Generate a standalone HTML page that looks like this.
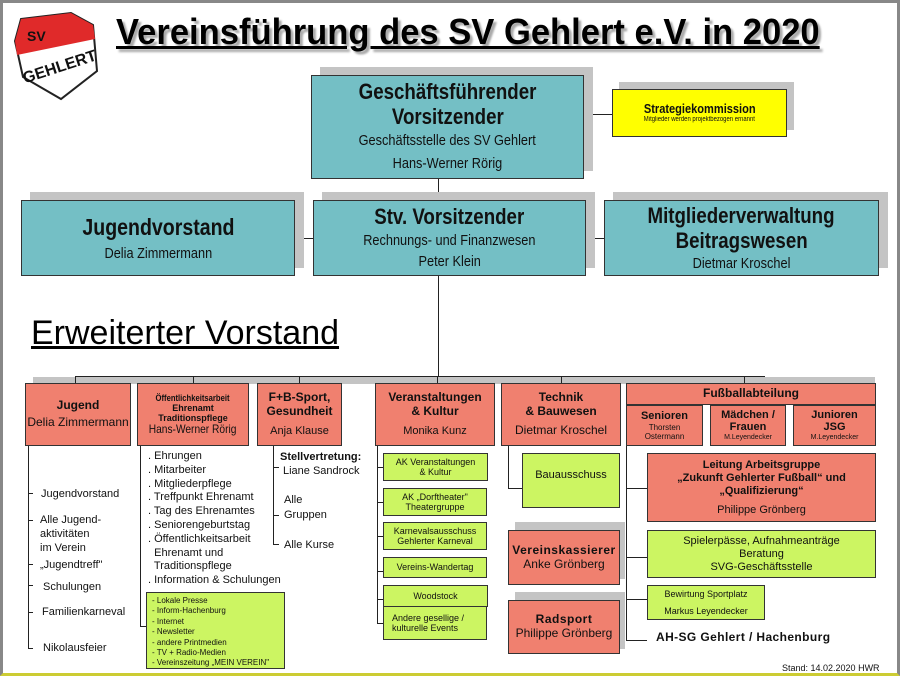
<!DOCTYPE html>
<html><head><meta charset="utf-8"><style>
body{margin:0;width:900px;height:676px;overflow:hidden;background:#fff;font-family:"Liberation Sans",Arial,sans-serif;}
#p{position:absolute;left:0;top:0;width:900px;height:676px;box-sizing:border-box;border:3px solid #888;border-bottom:3px solid #cc3;}
.a{position:absolute;box-sizing:border-box;}
.b{position:absolute;box-sizing:border-box;border:1.5px solid #333;text-align:center;color:#111;line-height:1.15;display:flex;flex-direction:column;justify-content:center;align-items:center;}
.t{background:#74bfc5;box-shadow:9px -8px 0 #c4c4c4;}
.s{background:#f0806f;}
.g{background:#ccf562;}
.h{position:absolute;background:#222;height:1px;}
.v{position:absolute;background:#222;width:1px;}
.n{display:inline-block;transform:scaleX(.85);white-space:nowrap;}
.tx{position:absolute;font-size:11px;color:#111;white-space:nowrap;line-height:14px;}
</style></head><body><div id="p">
<!-- logo -->
<svg class="a" style="left:8px;top:8px" width="90" height="95" viewBox="0 0 90 95">
<path d="M10 8 L60 2 L82 14 L86 60 L50 88 L12 66 L4 30 Z" fill="#fff" stroke="#222" stroke-width="2"/>
<path d="M10 8 L60 2 L82 14 L84 28 L6 44 L4 30 Z" fill="#e02a2a"/>
<text x="16" y="30" font-family="Liberation Sans" font-weight="bold" font-size="14" fill="#111">SV</text>
<text x="10" y="62" font-family="Liberation Sans" font-weight="bold" font-size="16" fill="#111" transform="rotate(-18 45 55)">GEHLERT</text>
</svg>
<!-- title -->
<div class="a" style="left:113px;top:8px;font-size:36px;font-weight:bold;text-decoration:underline;text-shadow:3px 3px 2px #aaa;white-space:nowrap;transform:scaleX(.96);transform-origin:left;">Vereinsführung des SV Gehlert e.V. in 2020</div>

<!-- lines top -->
<div class="v" style="left:435px;top:176px;height:22px"></div>
<div class="h" style="left:581px;top:111px;width:28px"></div>
<div class="h" style="left:292px;top:235px;width:18px"></div>
<div class="h" style="left:583px;top:235px;width:18px"></div>
<div class="v" style="left:435px;top:273px;height:100px"></div>

<div class="b t" style="left:308px;top:72px;width:273px;height:104px;"><div style="font-size:22px;font-weight:bold"><span class="n">Geschäftsführender</span><br><span class="n">Vorsitzender</span></div><div style="font-size:15px;line-height:23px"><span class="n">Geschäftsstelle des SV Gehlert</span><br><span class="n">Hans-Werner Rörig</span></div></div>
<div class="b" style="left:609px;top:86px;width:175px;height:48px;background:#ffff00;box-shadow:7px -7px 0 #c4c4c4;"><div style="font-size:13px;font-weight:bold"><span class="n">Strategiekommission</span></div><div style="font-size:7px"><span class="n">Mitglieder werden projektbezogen ernannt</span></div></div>

<div class="b t" style="left:18px;top:197px;width:274px;height:76px;"><div style="font-size:23px;font-weight:bold"><span class="n">Jugendvorstand</span></div><div style="font-size:15px;margin-top:4px"><span class="n">Delia Zimmermann</span></div></div>
<div class="b t" style="left:310px;top:197px;width:273px;height:76px;"><div style="font-size:22px;font-weight:bold"><span class="n">Stv. Vorsitzender</span></div><div style="font-size:15px;line-height:21px"><span class="n">Rechnungs- und Finanzwesen</span><br><span class="n">Peter Klein</span></div></div>
<div class="b t" style="left:601px;top:197px;width:275px;height:76px;"><div style="font-size:22px;font-weight:bold;line-height:25px"><span class="n">Mitgliederverwaltung</span><br><span class="n">Beitragswesen</span></div><div style="font-size:15px;margin-top:2px"><span class="n">Dietmar Kroschel</span></div></div>

<div class="a" style="left:28px;top:311px;font-size:34px;text-decoration:underline;white-space:nowrap;">Erweiterter Vorstand</div>

<!-- bus -->
<div class="h" style="left:72px;top:373px;width:690px"></div>
<div class="a" style="left:30px;top:374px;width:842px;height:7px;background:#c4c4c4"></div>
<div class="v" style="left:72px;top:373px;height:8px"></div>
<div class="v" style="left:190px;top:373px;height:8px"></div>
<div class="v" style="left:296px;top:373px;height:8px"></div>
<div class="v" style="left:434px;top:373px;height:8px"></div>
<div class="v" style="left:558px;top:373px;height:8px"></div>
<div class="v" style="left:741px;top:373px;height:8px"></div>

<div class="b s" style="left:22px;top:380px;width:106px;height:63px;"><div style="font-size:12px;font-weight:bold">Jugend</div><div style="font-size:12px;margin-top:3px;white-space:nowrap">Delia Zimmermann</div></div>
<div class="b s" style="left:134px;top:380px;width:112px;height:63px;"><div style="font-size:9px;font-weight:bold;line-height:10px"><span class="n">Öffentlichkeitsarbeit</span><br>Ehrenamt<br>Traditionspflege</div><div style="font-size:12px;white-space:nowrap"><span class="n">Hans-Werner Rörig</span></div></div>
<div class="b s" style="left:254px;top:380px;width:85px;height:63px;"><div style="font-size:12px;font-weight:bold">F+B-Sport,<br>Gesundheit</div><div style="font-size:11px;margin-top:6px">Anja Klause</div></div>
<div class="b s" style="left:372px;top:380px;width:120px;height:63px;"><div style="font-size:12px;font-weight:bold">Veranstaltungen<br>&amp; Kultur</div><div style="font-size:11px;margin-top:6px">Monika Kunz</div></div>
<div class="b s" style="left:498px;top:380px;width:120px;height:63px;"><div style="font-size:12px;font-weight:bold">Technik<br>&amp; Bauwesen</div><div style="font-size:12px;margin-top:6px">Dietmar Kroschel</div></div>
<div class="b s" style="left:623px;top:380px;width:250px;height:22px;"><div style="font-size:12px;font-weight:bold">Fußballabteilung</div></div>
<div class="b s" style="left:623px;top:402px;width:77px;height:41px;"><div style="font-size:11px;font-weight:bold">Senioren</div><div style="font-size:8px">Thorsten<br>Ostermann</div></div>
<div class="b s" style="left:707px;top:402px;width:76px;height:41px;"><div style="font-size:11px;font-weight:bold">Mädchen /<br>Frauen</div><div style="font-size:7px">M.Leyendecker</div></div>
<div class="b s" style="left:790px;top:402px;width:83px;height:41px;"><div style="font-size:11px;font-weight:bold">Junioren<br>JSG</div><div style="font-size:7px">M.Leyendecker</div></div>

<!-- Jugend column -->
<div class="v" style="left:25px;top:443px;height:203px"></div>
<div class="h" style="left:25px;top:490px;width:5px"></div>
<div class="h" style="left:25px;top:517px;width:5px"></div>
<div class="h" style="left:25px;top:561px;width:5px"></div>
<div class="h" style="left:25px;top:582px;width:5px"></div>
<div class="h" style="left:25px;top:609px;width:5px"></div>
<div class="h" style="left:25px;top:645px;width:5px"></div>
<div class="tx" style="left:38px;top:484px">Jugendvorstand</div>
<div class="tx" style="left:37px;top:510px">Alle Jugend-<br>aktivitäten<br>im Verein</div>
<div class="tx" style="left:37px;top:555px">„Jugendtreff"</div>
<div class="tx" style="left:40px;top:577px">Schulungen</div>
<div class="tx" style="left:39px;top:602px">Familienkarneval</div>
<div class="tx" style="left:40px;top:638px">Nikolausfeier</div>

<!-- Öffentlich column -->
<div class="v" style="left:137px;top:443px;height:180px"></div>
<div class="h" style="left:137px;top:623px;width:6px"></div>
<div class="tx" style="left:145px;top:447px;line-height:13.8px">. Ehrungen<br>. Mitarbeiter<br>. Mitgliederpflege<br>. Treffpunkt Ehrenamt<br>. Tag des Ehrenamtes<br>. Seniorengeburtstag<br>. Öffentlichkeitsarbeit<br>&nbsp; Ehrenamt und<br>&nbsp; Traditionspflege<br>. Information &amp; Schulungen</div>
<div class="a" style="left:143px;top:589px;width:139px;height:77px;background:#ccf562;border:1.5px solid #333;font-size:8px;line-height:10.4px;padding:3px 0 0 5px;color:#111">- Lokale Presse<br>- Inform-Hachenburg<br>- Internet<br>- Newsletter<br>- andere Printmedien<br>- TV + Radio-Medien<br>- Vereinszeitung „MEIN VEREIN"</div>

<!-- F+B column -->
<div class="v" style="left:270px;top:443px;height:98px"></div>
<div class="h" style="left:270px;top:464px;width:6px"></div>
<div class="h" style="left:270px;top:512px;width:6px"></div>
<div class="h" style="left:270px;top:541px;width:6px"></div>
<div class="tx" style="left:277px;top:447px;font-weight:bold">Stellvertretung:</div>
<div class="tx" style="left:280px;top:461px">Liane Sandrock</div>
<div class="tx" style="left:281px;top:490px;line-height:15px">Alle<br>Gruppen</div>
<div class="tx" style="left:281px;top:535px">Alle Kurse</div>

<!-- Veranst column -->
<div class="v" style="left:374px;top:443px;height:178px"></div>
<div class="h" style="left:374px;top:464px;width:6px"></div>
<div class="h" style="left:374px;top:499px;width:6px"></div>
<div class="h" style="left:374px;top:533px;width:6px"></div>
<div class="h" style="left:374px;top:568px;width:6px"></div>
<div class="h" style="left:374px;top:596px;width:6px"></div>
<div class="h" style="left:374px;top:620px;width:6px"></div>
<div class="b g" style="left:380px;top:450px;width:105px;height:28px;font-size:9px;">AK Veranstaltungen<br>&amp; Kultur</div>
<div class="b g" style="left:380px;top:485px;width:104px;height:28px;font-size:9px;">AK „Dorftheater"<br>Theatergruppe</div>
<div class="b g" style="left:380px;top:519px;width:104px;height:28px;font-size:9px;">Karnevalsausschuss<br>Gehlerter Karneval</div>
<div class="b g" style="left:380px;top:554px;width:104px;height:21px;font-size:9px;">Vereins-Wandertag</div>
<div class="b g" style="left:380px;top:582px;width:105px;height:22px;font-size:9px;">Woodstock</div>
<div class="b g" style="left:380px;top:603px;width:104px;height:34px;font-size:9px;text-align:left;align-items:flex-start;padding-left:8px">Andere gesellige /<br>kulturelle Events</div>

<!-- Technik -->
<div class="v" style="left:505px;top:443px;height:42px"></div>
<div class="h" style="left:505px;top:485px;width:14px"></div>
<div class="b g" style="left:519px;top:450px;width:98px;height:55px;font-size:11px;justify-content:flex-start;padding-top:15px">Bauausschuss</div>
<div class="a" style="left:512px;top:519px;width:110px;height:57px;background:#c4c4c4"></div>
<div class="b s" style="left:505px;top:527px;width:112px;height:55px;"><div style="font-size:12px;font-weight:bold;letter-spacing:.5px">Vereinskassierer</div><div style="font-size:12px">Anke Grönberg</div></div>
<div class="a" style="left:512px;top:589px;width:110px;height:57px;background:#c4c4c4"></div>
<div class="b s" style="left:505px;top:597px;width:112px;height:54px;"><div style="font-size:12px;font-weight:bold;letter-spacing:.5px">Radsport</div><div style="font-size:12px">Philippe Grönberg</div></div>

<!-- Fussball column -->
<div class="v" style="left:623px;top:443px;height:194px"></div>
<div class="h" style="left:623px;top:485px;width:21px"></div>
<div class="h" style="left:623px;top:554px;width:21px"></div>
<div class="h" style="left:623px;top:596px;width:21px"></div>
<div class="h" style="left:623px;top:637px;width:21px"></div>
<div class="b s" style="left:644px;top:450px;width:229px;height:69px;"><div style="font-size:11px;font-weight:bold;line-height:13px">Leitung Arbeitsgruppe<br>„Zukunft Gehlerter Fußball“ und<br>„Qualifizierung“</div><div style="font-size:11px;margin-top:6px">Philippe Grönberg</div></div>
<div class="b g" style="left:644px;top:527px;width:229px;height:48px;font-size:11px;line-height:13px">Spielerpässe, Aufnahmeanträge<br>Beratung<br>SVG-Geschäftsstelle</div>
<div class="b g" style="left:644px;top:582px;width:118px;height:35px;font-size:9px;line-height:17px">Bewirtung Sportplatz<br>Markus Leyendecker</div>
<div class="tx" style="left:653px;top:627px;font-size:12px;font-weight:bold;letter-spacing:.4px">AH-SG Gehlert / Hachenburg</div>
<div class="tx" style="left:779px;top:658px;font-size:9px">Stand: 14.02.2020 HWR</div>
</div></body></html>
